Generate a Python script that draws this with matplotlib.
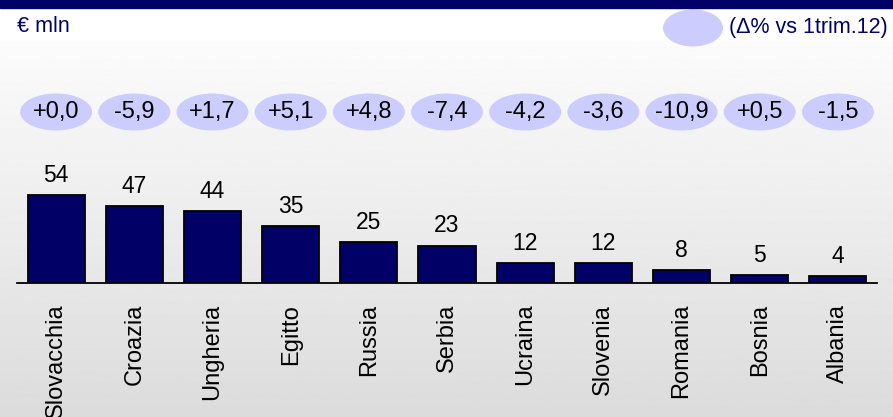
import matplotlib
matplotlib.use("Agg")
import matplotlib.pyplot as plt
import numpy as np
from matplotlib.patches import Ellipse, Rectangle

plt.rcParams['font.family'] = ['Liberation Sans', 'DejaVu Sans']

paesi = ["Slovacchia", "Croazia", "Ungheria", "Egitto", "Russia", "Serbia",
         "Ucraina", "Slovenia", "Romania", "Bosnia", "Albania"]
valori = [54, 47, 44, 35, 25, 23, 12, 12, 8, 5, 4]
delta = ["+0,0", "-5,9", "+1,7", "+5,1", "+4,8", "-7,4", "-4,2", "-3,6",
         "-10,9", "+0,5", "-1,5"]

W, H = 893, 417
navy = "#000066"
lilla = "#ccccff"

fig = plt.figure(figsize=(W / 100, H / 100), dpi=100)

# sfondo sfumato: bianco in alto, grigio chiaro in basso
bg = fig.add_axes([0, 0, 1, 1])
grad = np.linspace(1.0, 0.86, 256).reshape(-1, 1)
grad[:25] = 1.0
bg.imshow(grad, cmap="gray", vmin=0, vmax=1, aspect="auto",
          extent=[0, 1, 0, 1], origin="upper")
bg.set_axis_off()

# striscia blu in cima
fig.patches.append(Rectangle((0, 1 - 8 / H), 1, 8 / H, transform=fig.transFigure,
                             color=navy, zorder=5))

base_px = 283          # riga di base delle barre (pixel dall'alto)
px_unit = 1.63         # pixel per milione
ax = fig.add_axes([17 / W, (H - base_px) / H, 860 / W, base_px / H])
ax.set_xlim(-0.5, len(paesi) - 0.5)
ax.set_ylim(0, base_px / px_unit)
ax.patch.set_alpha(0)

x = np.arange(len(paesi))
ax.bar(x, valori, width=0.73, color=navy, edgecolor="black", linewidth=1.3,
       zorder=3)

for xi, v in zip(x, valori):
    ax.annotate(str(v), (xi, v), xytext=(0, 6), textcoords="offset points",
                ha="center", va="bottom", fontsize=16.5, color="black")

# ellissi con la variazione %
y_ell = (base_px - 112) / px_unit
ell_w = 72 / (860 / len(paesi))
ell_h = 37 / px_unit
for xi, d in zip(x, delta):
    ax.add_patch(Ellipse((xi, y_ell), ell_w, ell_h, facecolor=lilla,
                         edgecolor="none", zorder=2, clip_on=False))
    ax.text(xi, y_ell, d, ha="center", va="center", fontsize=17, zorder=4)

ax.set_xticks(x)
ax.set_xticklabels(paesi, rotation=90, fontsize=17, va="top")
ax.tick_params(axis="x", length=0, pad=15)
ax.set_yticks([])
for s in ["top", "left", "right"]:
    ax.spines[s].set_visible(False)
ax.spines["bottom"].set_linewidth(1.3)
ax.spines["bottom"].set_zorder(4)

# intestazione
fig.text(17 / W, 1 - 26 / H, "€ mln", ha="left", va="center", fontsize=15.5,
         color=navy)
fig.patches.append(Ellipse((693 / W, 1 - 28 / H), 60 / W, 37 / H,
                           transform=fig.transFigure, facecolor=lilla,
                           edgecolor="none"))
fig.text(888 / W, 1 - 28 / H, "(Δ% vs 1trim.12)", ha="right", va="center",
         fontsize=15.5, color=navy)

fig.savefig("out.png", dpi=100)
